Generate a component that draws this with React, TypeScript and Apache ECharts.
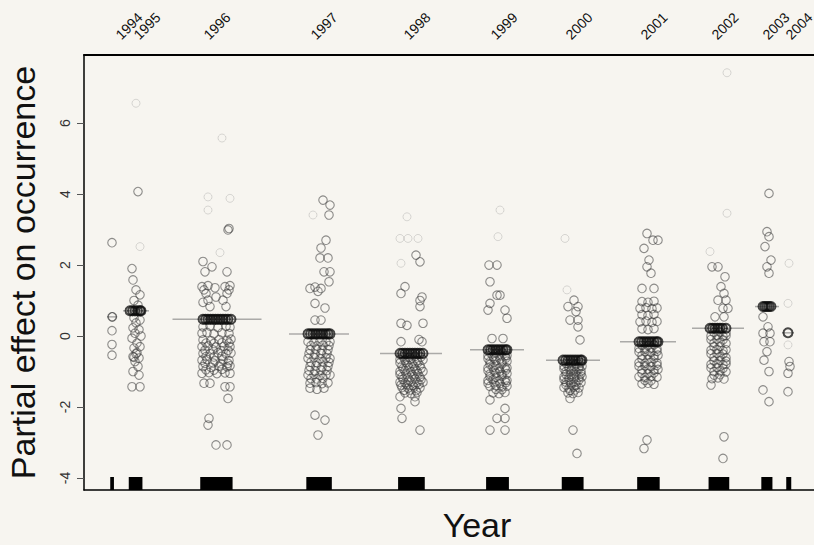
import { useEffect, useRef } from 'react';
import * as echarts from 'echarts';

// ---- axis / category data ----
const years = ['1994', '1995', '1996', '1997', '1998', '1999', '2000', '2001', '2002', '2003', '2004'];
const yearCentres = [2.8, 5.2, 13.3, 23.5, 32.7, 41.3, 48.9, 56.4, 63.4, 68.3, 70.4];
const yearEffects = [0.54, 0.71, 0.47, 0.06, -0.49, -0.39, -0.68, -0.16, 0.22, 0.83, 0.09];
const levelHalfWidths = [0.5, 1.3, 4.45, 3.0, 3.1, 2.7, 2.7, 2.8, 2.6, 1.2, 0.6];
const yearLabelPos = [4.5, 6.3, 13.3, 24.0, 33.3, 42.0, 49.5, 57.0, 64.1, 69.2, 71.5];
const yTicks = [-4, -2, 0, 2, 4, 6];
const yMin = -4.34;
const yMax = 7.92;
const xMin = 0;
const xMax = 78.6;

// ---- partial residuals (jittered x, y) ----
const pts1994 = [[2.8, 2.63], [2.8, 0.54], [2.85, 0.54], [2.8, 0.15], [2.8, -0.24], [2.8, -0.54]];
const pts1995 = [
  [5.4, 4.07], [4.8, 1.9], [4.9, 1.58], [5.2, 1.3], [5.6, 1.16], [5.0, 1.0], [5.4, 0.87],
  [5.0, 0.51], [5.6, 0.45], [5.2, 0.37], [4.9, 0.23], [5.5, 0.18], [5.1, 0.08], [5.7, 0.0],
  [4.8, -0.06], [5.3, -0.2], [5.6, -0.3], [5.0, -0.34], [5.3, -0.47], [5.2, -0.5], [5.0, -0.6],
  [4.9, -0.58], [5.5, -0.62], [5.1, -0.72], [5.4, -0.86], [4.9, -1.0], [5.5, -1.1],
  [4.8, -1.43], [5.6, -1.43],
];
const pts1996 = [
  [14.4, 2.99], [14.5, 3.03], [11.9, 2.1], [12.8, 1.95], [12.1, 1.81], [14.3, 1.81],
  [11.8, 1.39], [12.4, 1.42], [13.1, 1.36], [14.1, 1.39], [14.6, 1.42], [12.0, 1.3], [14.5, 1.3],
  [12.2, 1.2], [14.3, 1.2], [12.4, 1.01], [13.9, 1.01], [12.6, 0.83], [14.2, 0.83], [11.9, 0.95], [13.2, 1.1],
  [11.9, 0.26], [12.6, 0.28], [13.4, 0.24], [14.2, 0.27], [14.6, 0.25],
  [11.8, 0.08], [12.3, 0.1], [13.0, 0.06], [13.8, 0.09], [14.5, 0.07],
  [11.9, -0.11], [12.7, -0.13], [13.5, -0.1], [14.3, -0.12], [14.7, -0.09],
  [11.8, -0.3], [12.4, -0.28], [13.2, -0.31], [14.0, -0.29], [14.6, -0.3],
  [11.9, -0.49], [12.6, -0.5], [13.4, -0.47], [14.2, -0.5], [14.7, -0.48],
  [11.8, -0.68], [12.3, -0.66], [13.1, -0.7], [13.9, -0.67], [14.5, -0.69],
  [11.9, -0.86], [12.7, -0.88], [13.5, -0.85], [14.3, -0.87], [14.6, -0.84],
  [11.8, -1.05], [12.5, -1.03], [13.3, -1.06], [14.1, -1.04], [14.6, -1.05],
  [12.2, -0.2], [13.0, -0.21], [13.8, -0.19], [14.5, -0.2], [12.1, -0.4], [12.9, -0.39], [13.7, -0.41], [14.4, -0.4],
  [12.2, -0.58], [13.0, -0.59], [13.8, -0.57], [12.1, -0.77], [12.9, -0.76], [13.7, -0.78], [14.4, -0.77],
  [12.2, -0.95], [13.0, -0.96], [13.8, -0.94],
  [12.0, -1.33], [12.6, -1.33], [14.1, -1.43], [14.6, -1.43], [14.4, -1.76],
  [12.5, -2.32], [12.4, -2.51], [13.2, -3.07], [14.3, -3.07],
];
const pts1997 = [
  [23.9, 3.83], [24.6, 3.69], [24.5, 3.41], [24.2, 2.7], [23.7, 2.48], [23.6, 2.2], [24.4, 2.2],
  [24.0, 1.81], [24.6, 1.81], [24.5, 1.53], [22.6, 1.34], [23.1, 1.38], [23.7, 1.34], [23.4, 1.26],
  [23.1, 0.92], [24.1, 0.79], [23.1, 0.45], [23.7, 0.45],
  [22.4, -0.16], [23.0, -0.18], [23.6, -0.15], [24.2, -0.17], [24.6, -0.16],
  [22.6, -0.39], [23.2, -0.37], [23.8, -0.4], [24.4, -0.38],
  [22.4, -0.63], [23.0, -0.61], [23.6, -0.64], [24.2, -0.62], [24.6, -0.63],
  [22.6, -0.86], [23.2, -0.84], [23.8, -0.87], [24.4, -0.85],
  [22.4, -1.1], [23.0, -1.08], [23.6, -1.11], [24.2, -1.09], [24.6, -1.1],
  [22.6, -1.33], [23.2, -1.31], [23.8, -1.34], [24.4, -1.32],
  [22.7, -0.27], [23.3, -0.28], [23.9, -0.26], [24.5, -0.27], [22.5, -0.5], [23.1, -0.51], [23.7, -0.49], [24.3, -0.5],
  [22.7, -0.74], [23.3, -0.75], [23.9, -0.73], [24.5, -0.74], [22.5, -0.97], [23.1, -0.98], [23.7, -0.96], [24.3, -0.97],
  [22.7, -1.2], [23.3, -1.21], [23.9, -1.19],
  [22.6, -1.47], [23.3, -1.5], [24.0, -1.47], [23.1, -2.23], [24.1, -2.37], [23.4, -2.79],
];
const pts1998 = [
  [33.2, 2.28], [33.6, 2.09], [32.1, 1.39], [31.7, 1.2], [33.8, 1.1], [33.6, 1.0], [33.6, 0.83],
  [31.7, 0.36], [32.3, 0.3], [33.9, 0.36], [31.7, -0.16], [33.8, -0.16], [33.5, -0.1],
  [31.6, -0.66], [32.1, -0.68], [32.7, -0.65], [33.3, -0.69], [33.9, -0.67],
  [31.8, -0.84], [32.4, -0.82], [33.0, -0.85], [33.6, -0.83],
  [31.6, -1.0], [32.1, -0.98], [32.7, -1.01], [33.3, -0.99], [33.9, -1.0],
  [31.8, -1.15], [32.4, -1.17], [33.0, -1.14], [33.6, -1.16],
  [31.6, -1.3], [32.1, -1.32], [32.7, -1.29], [33.3, -1.31], [33.9, -1.3],
  [31.8, -1.45], [32.4, -1.47], [33.0, -1.44], [33.6, -1.46],
  [32.1, -1.6], [32.7, -1.62], [33.3, -1.59],
  [31.9, -0.58], [32.5, -0.6], [33.1, -0.57], [33.7, -0.59], [31.6, -0.76], [32.2, -0.75], [32.8, -0.77], [33.4, -0.74],
  [31.9, -0.92], [32.5, -0.9], [33.1, -0.93], [33.7, -0.91], [31.6, -1.08], [32.2, -1.07], [32.8, -1.09], [33.4, -1.06],
  [31.9, -1.22], [32.5, -1.24], [33.1, -1.21], [33.7, -1.23], [31.7, -1.38], [32.3, -1.37], [32.9, -1.39], [33.5, -1.36],
  [32.0, -1.53], [32.6, -1.52], [33.2, -1.54],
  [31.6, -1.71], [33.1, -1.71], [33.1, -1.85], [31.7, -2.04], [31.8, -2.32], [33.6, -2.65],
];
const pts1999 = [
  [40.5, 2.0], [41.3, 2.0], [40.6, 1.53], [41.3, 1.15], [41.6, 1.15], [40.6, 0.92], [40.4, 0.73],
  [42.1, 0.73], [42.3, 0.5], [40.8, -0.07], [41.9, -0.07],
  [40.4, -0.55], [40.9, -0.57], [41.5, -0.54], [42.1, -0.56], [42.3, -0.55],
  [40.6, -0.72], [41.2, -0.7], [41.8, -0.73], [42.3, -0.71],
  [40.4, -0.9], [40.9, -0.88], [41.5, -0.91], [42.1, -0.89], [42.3, -0.9],
  [40.6, -1.07], [41.2, -1.05], [41.8, -1.08], [42.3, -1.06],
  [40.4, -1.25], [40.9, -1.23], [41.5, -1.26], [42.1, -1.24], [42.3, -1.25],
  [40.6, -1.42], [41.2, -1.4], [41.8, -1.43], [42.3, -1.41],
  [40.9, -1.6], [41.5, -1.62], [42.1, -1.59],
  [40.6, -0.47], [41.2, -0.48], [41.8, -0.46], [40.4, -0.64], [41.0, -0.63], [41.6, -0.65], [42.2, -0.62],
  [40.6, -0.8], [41.2, -0.81], [41.8, -0.79], [40.4, -0.98], [41.0, -0.97], [41.6, -0.99], [42.2, -0.96],
  [40.6, -1.15], [41.2, -1.16], [41.8, -1.14], [40.4, -1.33], [41.0, -1.32], [41.6, -1.34], [42.2, -1.31],
  [41.2, -1.5], [41.8, -1.51],
  [40.6, -1.8], [42.1, -2.04], [41.3, -2.32], [42.1, -2.32], [40.6, -2.65], [42.1, -2.65],
];
const pts2000 = [
  [49.0, 1.01], [48.4, 0.83], [49.4, 0.83], [49.2, 0.69], [48.6, 0.45], [49.4, 0.45], [49.4, 0.26], [49.6, -0.11],
  [48.0, -0.85], [48.5, -0.87], [49.0, -0.84], [49.5, -0.86], [49.8, -0.85],
  [48.2, -1.0], [48.7, -0.98], [49.2, -1.01], [49.7, -0.99],
  [48.0, -1.15], [48.5, -1.17], [49.0, -1.14], [49.5, -1.16], [49.8, -1.15],
  [48.2, -1.3], [48.7, -1.32], [49.2, -1.29], [49.7, -1.31],
  [48.0, -1.45], [48.5, -1.47], [49.0, -1.44], [49.5, -1.46],
  [48.4, -1.6], [48.9, -1.62], [49.4, -1.59],
  [48.2, -0.77], [48.7, -0.76], [49.2, -0.78], [49.7, -0.75], [48.0, -0.93], [48.5, -0.92], [49.0, -0.94], [49.5, -0.91],
  [48.2, -1.08], [48.7, -1.07], [49.2, -1.09], [49.7, -1.06], [48.0, -1.22], [48.5, -1.23], [49.0, -1.21], [49.5, -1.24],
  [48.2, -1.38], [48.7, -1.37], [49.2, -1.39], [48.6, -1.53], [49.1, -1.52],
  [48.6, -1.76], [48.9, -2.65], [49.3, -3.31],
];
const pts2001 = [
  [56.3, 2.89], [56.9, 2.7], [57.4, 2.7], [56.0, 2.47], [56.5, 2.14], [56.3, 1.95], [56.7, 1.77],
  [55.8, 1.34], [57.0, 1.34],
  [55.8, 0.97], [56.4, 0.95], [57.0, 0.98],
  [55.6, 0.78], [56.2, 0.8], [56.8, 0.77], [57.3, 0.79],
  [55.8, 0.6], [56.4, 0.58], [57.0, 0.61],
  [55.6, 0.4], [56.2, 0.42], [56.8, 0.39], [57.3, 0.41],
  [55.8, 0.2], [56.4, 0.18], [57.0, 0.21],
  [55.5, -0.35], [56.1, -0.37], [56.7, -0.34], [57.3, -0.36],
  [55.8, -0.55], [56.4, -0.53], [57.0, -0.56], [57.4, -0.54],
  [55.5, -0.75], [56.1, -0.77], [56.7, -0.74], [57.3, -0.76],
  [55.8, -0.95], [56.4, -0.93], [57.0, -0.96], [57.4, -0.94],
  [55.5, -1.15], [56.1, -1.17], [56.7, -1.14], [57.3, -1.16],
  [55.8, -1.35], [56.4, -1.33], [57.0, -1.36],
  [55.8, -0.26], [56.4, -0.27], [57.0, -0.25], [55.5, -0.45], [56.1, -0.44], [56.7, -0.46], [57.3, -0.43],
  [55.8, -0.65], [56.4, -0.66], [57.0, -0.64], [55.5, -0.85], [56.1, -0.84], [56.7, -0.86], [57.3, -0.83],
  [55.8, -1.05], [56.4, -1.06], [57.0, -1.04], [56.1, -1.25], [56.7, -1.26],
  [56.3, -2.93], [56.0, -3.17],
];
const pts2002 = [
  [62.8, 1.95], [63.4, 1.95], [64.1, 1.67], [63.7, 1.39], [64.0, 1.2], [63.4, 1.01], [64.2, 1.01],
  [63.9, 0.78], [64.4, 0.78], [63.1, 0.54], [64.0, 0.54],
  [62.7, 0.0], [63.3, 0.02], [63.9, -0.01], [64.2, 0.01],
  [63.0, -0.2], [63.6, -0.18], [64.2, -0.21],
  [62.7, -0.4], [63.3, -0.38], [63.9, -0.41], [64.2, -0.39],
  [63.0, -0.6], [63.6, -0.58], [64.2, -0.61],
  [62.7, -0.8], [63.3, -0.78], [63.9, -0.81], [64.2, -0.79],
  [63.0, -1.0], [63.6, -0.98], [64.2, -1.01],
  [62.8, -1.2], [63.4, -1.18], [64.0, -1.21],
  [63.0, 0.1], [63.6, 0.11], [64.2, 0.09], [62.7, -0.1], [63.3, -0.09], [63.9, -0.11], [63.0, -0.3], [63.6, -0.29],
  [62.7, -0.5], [63.3, -0.49], [63.9, -0.51], [63.0, -0.7], [63.6, -0.69], [64.2, -0.71],
  [62.7, -0.9], [63.3, -0.89], [63.9, -0.91], [63.0, -1.1], [63.6, -1.09],
  [62.7, -1.38], [64.0, -2.84], [63.9, -3.45],
];
const pts2003 = [
  [68.5, 4.02], [68.3, 2.94], [68.5, 2.8], [68.1, 2.52], [68.7, 2.14], [68.3, 1.95], [68.5, 1.77],
  [67.9, 0.54], [68.4, 0.26], [67.9, 0.08], [68.6, 0.08], [68.0, -0.16], [68.6, -0.16],
  [68.3, -0.44], [68.0, -0.68], [68.5, -1.0], [67.9, -1.52], [68.5, -1.85],
];
const pts2004 = [[70.5, -0.72], [70.6, -0.86], [70.4, -1.05], [70.4, -1.57]];

// residuals tied at each year's fitted level (they pile up into dark bars)
const tiedPts = [
  [4.6, 0.71], [4.85, 0.71], [5.1, 0.71], [5.35, 0.71], [5.6, 0.71], [5.7, 0.71],
  [11.9, 0.47], [12.15, 0.47], [12.4, 0.47], [12.65, 0.47], [12.9, 0.47], [13.15, 0.47], [13.4, 0.47],
  [13.65, 0.47], [13.9, 0.47], [14.15, 0.47], [14.4, 0.47], [14.7, 0.47],
  [22.4, 0.06], [22.65, 0.06], [22.9, 0.06], [23.15, 0.06], [23.4, 0.06], [23.65, 0.06],
  [23.9, 0.06], [24.15, 0.06], [24.4, 0.06], [24.6, 0.06],
  [31.6, -0.49], [31.85, -0.49], [32.1, -0.49], [32.35, -0.49], [32.6, -0.49], [32.85, -0.49],
  [33.1, -0.49], [33.35, -0.49], [33.6, -0.49], [33.9, -0.49],
  [40.4, -0.39], [40.65, -0.39], [40.9, -0.39], [41.15, -0.39], [41.4, -0.39], [41.65, -0.39],
  [41.9, -0.39], [42.15, -0.39], [42.3, -0.39],
  [47.9, -0.68], [48.15, -0.68], [48.4, -0.68], [48.65, -0.68], [48.9, -0.68], [49.15, -0.68],
  [49.4, -0.68], [49.65, -0.68], [49.8, -0.68],
  [55.5, -0.16], [55.75, -0.16], [56.0, -0.16], [56.25, -0.16], [56.5, -0.16], [56.75, -0.16],
  [57.0, -0.16], [57.25, -0.16], [57.4, -0.16],
  [62.6, 0.22], [62.85, 0.22], [63.1, 0.22], [63.35, 0.22], [63.6, 0.22], [63.85, 0.22], [64.2, 0.22],
  [67.9, 0.83], [68.1, 0.83], [68.3, 0.83], [68.5, 0.83], [68.7, 0.83],
  [70.4, 0.09],
];
const faintPts = [
  [5.2, 6.56], [5.6, 2.52], [13.8, 5.58], [12.4, 3.92], [14.6, 3.88], [12.4, 3.55], [13.6, 2.35],
  [22.9, 3.41], [32.3, 3.36], [31.6, 2.75], [32.4, 2.75], [33.4, 2.75], [31.7, 2.05],
  [41.6, 3.55], [41.4, 2.8], [48.1, 2.75], [48.3, 1.3],
  [64.3, 7.42], [64.3, 3.46], [62.6, 2.38],
  [70.5, 2.05], [70.4, 0.92], [70.4, -0.25],
];

const FONT = '"Liberation Sans", Arial, Helvetica, sans-serif';

export default function App() {
  const ref = useRef<HTMLDivElement>(null);
  useEffect(() => {
    const chart = echarts.init(ref.current!, null, { renderer: 'svg' });
    const mainPts = [
      ...pts1994, ...pts1995, ...pts1996, ...pts1997, ...pts1998, ...pts1999,
      ...pts2000, ...pts2001, ...pts2002, ...pts2003, ...pts2004,
    ];
    const rugData = [...mainPts, ...tiedPts, ...faintPts].map((p) => [p[0], yMin]);
    const levelData = years.map((_, i) => [yearCentres[i], yearEffects[i], levelHalfWidths[i]]);
    const labelData = years.map((_, i) => [yearLabelPos[i], yMax]);

    chart.setOption({
      animation: false,
      backgroundColor: '#f7f5f0',
      textStyle: { fontFamily: FONT },
      grid: { left: 84, right: -56, top: 55, bottom: 55, outerBoundsMode: 'none', containLabel: false },
      xAxis: [
        {
          type: 'value', min: xMin, max: xMax, position: 'bottom',
          name: 'Year', nameLocation: 'middle', nameGap: 18,
          nameTextStyle: { fontSize: 34, color: '#111', fontFamily: FONT },
          axisLine: { show: true, onZero: false, lineStyle: { color: '#000', width: 1.5 } },
          axisTick: { show: false }, axisLabel: { show: false }, splitLine: { show: false },
        },
        {
          type: 'value', min: xMin, max: xMax, position: 'top',
          axisLine: { show: true, onZero: false, lineStyle: { color: '#000', width: 2 } },
          axisTick: { show: false }, axisLabel: { show: false }, splitLine: { show: false },
        },
      ],
      yAxis: {
        type: 'value', min: yMin, max: yMax,
        name: 'Partial effect on occurrence', nameLocation: 'middle', nameGap: 44,
        nameTextStyle: { fontSize: 34, color: '#111', fontFamily: FONT },
        axisLine: { show: true, onZero: false, lineStyle: { color: '#000', width: 1.5 } },
        axisTick: { show: true, length: 7, customValues: yTicks, lineStyle: { color: '#555' } },
        axisLabel: { show: true, rotate: 90, margin: 12, customValues: yTicks, fontSize: 14, color: '#333', fontFamily: FONT },
        splitLine: { show: false },
      },
      series: [
        {
          type: 'custom', name: 'levels', xAxisIndex: 0, yAxisIndex: 0, z: 1,
          encode: { x: 0, y: 1 },
          data: levelData,
          renderItem: (_p: any, api: any) => {
            const xc = api.value(0), y = api.value(1), hw = api.value(2);
            const a = api.coord([xc - hw, y]);
            const b = api.coord([xc + hw, y]);
            return { type: 'line', shape: { x1: a[0], y1: a[1], x2: b[0], y2: b[1] }, style: { stroke: 'rgba(120,120,120,0.6)', lineWidth: 1.5 } };
          },
        },
        {
          type: 'scatter', name: 'faint', z: 2, symbol: 'circle', symbolSize: 8,
          itemStyle: { color: 'rgba(0,0,0,0)', borderColor: 'rgba(130,130,130,0.35)', borderWidth: 1 },
          data: faintPts,
        },
        {
          type: 'scatter', name: 'residuals', z: 3, symbol: 'circle', symbolSize: 8.5,
          itemStyle: { color: 'rgba(0,0,0,0)', borderColor: 'rgba(55,55,55,0.7)', borderWidth: 1.1 },
          data: mainPts,
        },
        {
          type: 'scatter', name: 'tied', z: 3, symbol: 'circle', symbolSize: 9,
          itemStyle: { color: 'rgba(0,0,0,0)', borderColor: 'rgba(10,10,10,0.92)', borderWidth: 2 },
          data: tiedPts,
        },
        {
          type: 'custom', name: 'rug', z: 4, encode: { x: 0, y: 1 },
          data: rugData,
          renderItem: (_p: any, api: any) => {
            const p = api.coord([api.value(0), api.value(1)]);
            return { type: 'line', shape: { x1: p[0], y1: p[1], x2: p[0], y2: p[1] - 13 }, style: { stroke: '#000', lineWidth: 2.5 } };
          },
        },
        {
          type: 'custom', name: 'yearLabels', z: 5, clip: false, encode: { x: 0, y: 1 },
          data: labelData,
          renderItem: (params: any, api: any) => {
            const p = api.coord([api.value(0), api.value(1)]);
            return {
              type: 'text', x: p[0], y: p[1] - 29, rotation: Math.PI / 4,
              style: {
                text: years[params.dataIndex], fill: '#111', font: `14px ${FONT}`,
                align: 'center', verticalAlign: 'middle', textAlign: 'center', textVerticalAlign: 'middle',
              },
            };
          },
        },
      ],
    });
    return () => chart.dispose();
  }, []);
  return <div ref={ref} style={{ position: 'fixed', left: 0, top: 0, width: 814, height: 545 }} />;
}
